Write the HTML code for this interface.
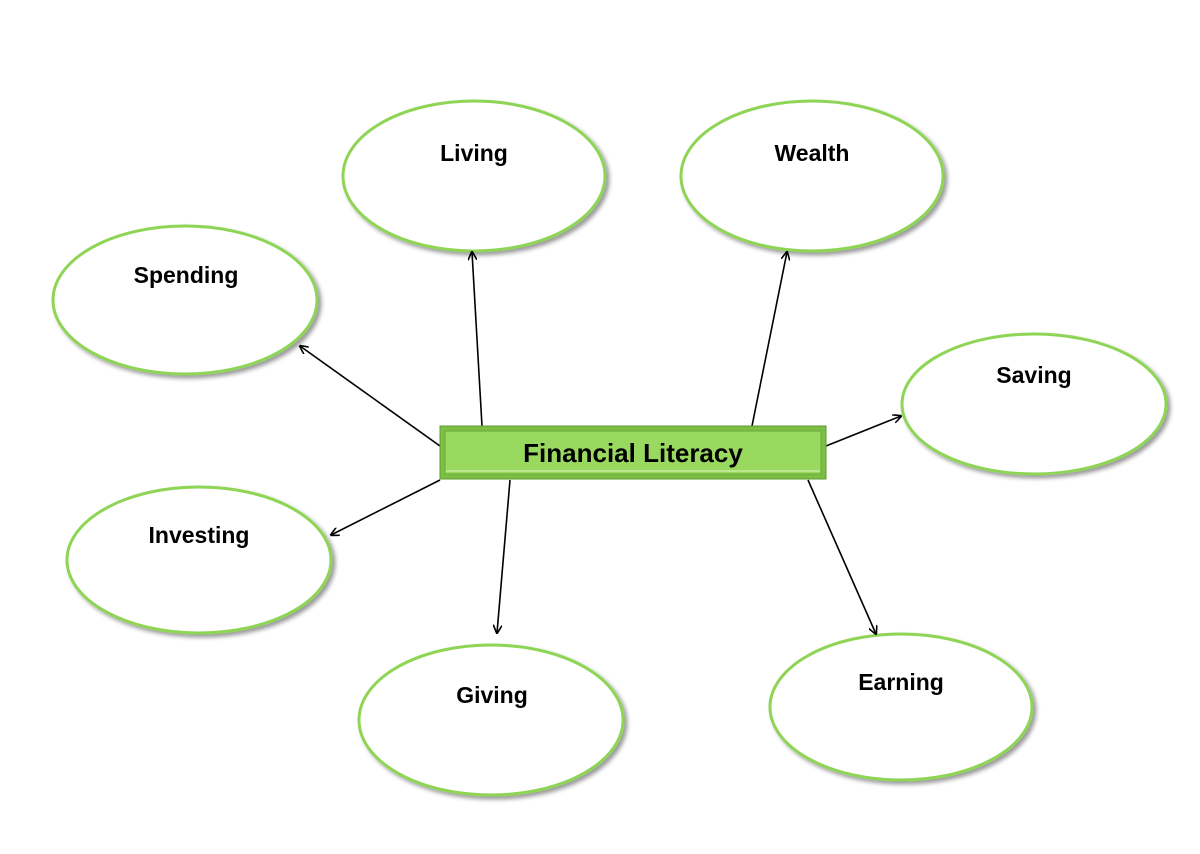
<!DOCTYPE html>
<html><head><style>
body{margin:0;background:#fff;}
svg text{font-family:"Liberation Sans",sans-serif;font-weight:bold;}
</style></head><body>
<svg width="1200" height="849" viewBox="0 0 1200 849" xmlns="http://www.w3.org/2000/svg">
<defs>
<marker id="a" viewBox="0 0 10 10" refX="9" refY="5" markerWidth="9" markerHeight="9" orient="auto" markerUnits="userSpaceOnUse">
<path d="M0,0 L10,5 L0,10" fill="none" stroke="#000" stroke-width="1.8"/></marker>
<filter id="s" x="-10%" y="-10%" width="125%" height="130%"><feGaussianBlur in="SourceAlpha" stdDeviation="2"/><feOffset dx="3" dy="3"/><feComponentTransfer><feFuncA type="linear" slope="0.4"/></feComponentTransfer><feMerge><feMergeNode/><feMergeNode in="SourceGraphic"/></feMerge></filter>
</defs>
<g fill="#fff" stroke="#8ed454" stroke-width="3" filter="url(#s)">
<ellipse cx="474" cy="176" rx="131" ry="75"/>
<ellipse cx="812" cy="176" rx="131" ry="75"/>
<ellipse cx="185" cy="300" rx="132" ry="74"/>
<ellipse cx="1034" cy="404" rx="132" ry="70"/>
<ellipse cx="199" cy="560" rx="132" ry="73"/>
<ellipse cx="491" cy="720" rx="132" ry="75"/>
<ellipse cx="901" cy="707" rx="131" ry="73"/>
</g>
<g font-size="23" text-anchor="middle" fill="#000">
<text x="474" y="161">Living</text>
<text x="812" y="161">Wealth</text>
<text x="186" y="283">Spending</text>
<text x="1034" y="383">Saving</text>
<text x="199" y="543">Investing</text>
<text x="492" y="703">Giving</text>
<text x="901" y="690">Earning</text>
</g>
<g stroke="#000" stroke-width="1.6" marker-end="url(#a)">
<line x1="482" y1="426" x2="472" y2="252"/>
<line x1="752" y1="426" x2="787" y2="252"/>
<line x1="440" y1="446" x2="300" y2="346"/>
<line x1="440" y1="480" x2="331" y2="535"/>
<line x1="510" y1="480" x2="497" y2="633"/>
<line x1="826" y1="446" x2="901" y2="416"/>
<line x1="808" y1="480" x2="876" y2="634"/>
</g>
<rect x="440" y="426" width="386" height="53" fill="#7cbf45" stroke="#5f9a33" stroke-width="1"/>
<rect x="445" y="431" width="376" height="43" fill="#9ad95f" stroke="#6fae3d" stroke-width="1.2"/>
<line x1="446" y1="471" x2="820" y2="471" stroke="#c6ec9e" stroke-width="1.5"/>
<text x="633" y="462" font-size="26" text-anchor="middle" fill="#000">Financial Literacy</text>
</svg>
</body></html>
